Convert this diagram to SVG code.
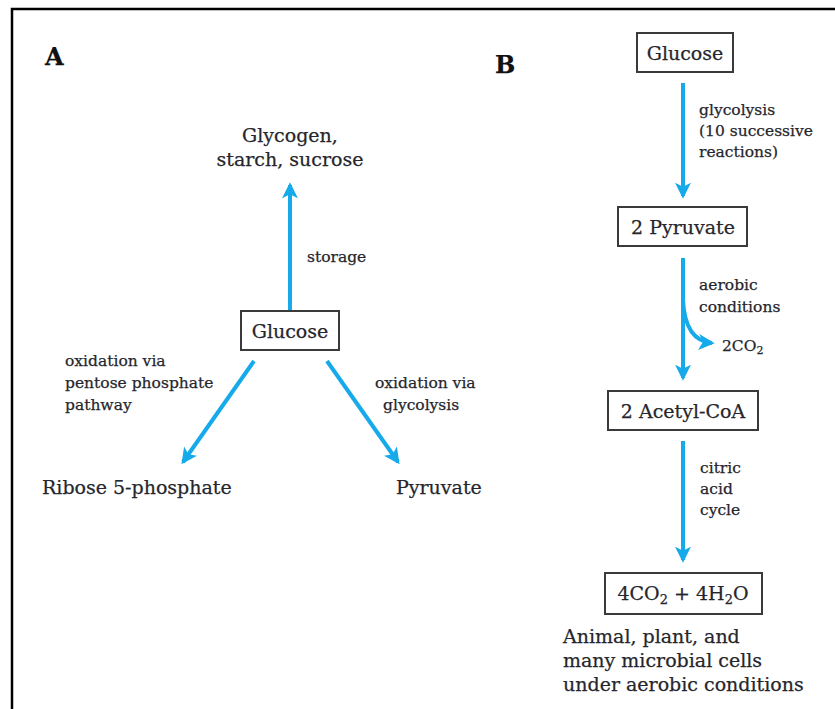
<svg xmlns="http://www.w3.org/2000/svg" width="835" height="709" viewBox="0 0 835 709">
  <style>
    .frame { stroke: #000; stroke-width: 2.5; fill: none; }
    .box { fill: #fff; stroke: #3a3a3a; stroke-width: 2; }
    text { font-family: "DejaVu Serif", "Liberation Serif", serif; fill: #26262c; stroke: #26262c; stroke-width: 0.25; }
    .node { font-size: 19px; }
    .lbl { font-size: 15.5px; }
    .big { font-size: 19px; }
    .panel { font-size: 24px; font-weight: bold; fill: #111; stroke: #111; }
    .arrow { stroke: #16aaea; stroke-width: 4; fill: none; marker-end: url(#head); }
  </style>
  <defs>
    <marker id="head" viewBox="0 0 12 12" refX="10" refY="6" markerWidth="4" markerHeight="4" orient="auto" markerUnits="strokeWidth">
      <path d="M0,0 L12,6 L0,12 L3,6 z" fill="#16aaea"/>
    </marker>
  </defs>

  <!-- frame -->
  <path class="frame" d="M12,709 L12,9 L835,9"/>

  <text class="panel" x="45" y="65">A</text>
  <text class="panel" x="495" y="73">B</text>

  <!-- connectors -->
  <g id="connectors">
    <line class="arrow" x1="290" y1="310" x2="290" y2="185"/>
    <line class="arrow" x1="254" y1="361" x2="183" y2="462"/>
    <line class="arrow" x1="327" y1="361" x2="398" y2="462"/>
    <line class="arrow" x1="683" y1="83" x2="683" y2="196"/>
    <line class="arrow" x1="683" y1="258" x2="683" y2="378"/>
    <path class="arrow" d="M683,300 Q685,341 712,343"/>
    <line class="arrow" x1="683" y1="441" x2="683" y2="560"/>
  </g>

  <!-- panel A -->
  <g id="a-storage-products">
    <text class="big" x="290" y="142" text-anchor="middle">Glycogen,</text>
    <text class="big" x="290" y="166" text-anchor="middle">starch, sucrose</text>
  </g>
  <g id="a-glucose">
    <rect class="box" x="241" y="311" width="98" height="39"/>
    <text class="node" x="290" y="338" text-anchor="middle">Glucose</text>
  </g>
  <g id="a-ribose">
    <text class="big" x="42" y="494">Ribose 5-phosphate</text>
  </g>
  <g id="a-pyruvate">
    <text class="big" x="396" y="494">Pyruvate</text>
  </g>
  <g id="a-labels">
    <text class="lbl" x="307" y="262">storage</text>
    <text class="lbl" x="65" y="366">oxidation via</text>
    <text class="lbl" x="65" y="388">pentose phosphate</text>
    <text class="lbl" x="65" y="410">pathway</text>
    <text class="lbl" x="375" y="388">oxidation via</text>
    <text class="lbl" x="383" y="410">glycolysis</text>
  </g>

  <!-- panel B -->
  <g id="b-glucose">
    <rect class="box" x="637" y="33" width="96" height="39"/>
    <text class="node" x="685" y="60" text-anchor="middle">Glucose</text>
  </g>
  <g id="b-pyruvate">
    <rect class="box" x="618" y="207" width="129" height="39"/>
    <text class="node" x="683" y="234" text-anchor="middle">2 Pyruvate</text>
  </g>
  <g id="b-acetylcoa">
    <rect class="box" x="608" y="391" width="150" height="39"/>
    <text class="node" x="683" y="418" text-anchor="middle">2 Acetyl-CoA</text>
  </g>
  <g id="b-products">
    <rect class="box" x="605" y="573" width="157" height="41"/>
    <text class="node" x="683" y="600" text-anchor="middle">4CO<tspan font-size="13" dy="4">2</tspan><tspan dy="-4"> + 4H</tspan><tspan font-size="13" dy="4">2</tspan><tspan dy="-4">O</tspan></text>
  </g>
  <g id="b-labels">
    <text class="lbl" x="699" y="115">glycolysis</text>
    <text class="lbl" x="699" y="136">(10 successive</text>
    <text class="lbl" x="699" y="157">reactions)</text>
    <text class="lbl" x="699" y="290">aerobic</text>
    <text class="lbl" x="699" y="312">conditions</text>
    <text class="lbl" x="722" y="351">2CO<tspan font-size="11" dy="3">2</tspan></text>
    <text class="lbl" x="700" y="473">citric</text>
    <text class="lbl" x="700" y="494">acid</text>
    <text class="lbl" x="700" y="515">cycle</text>
  </g>
  <g id="b-note">
    <text class="big" x="563" y="643">Animal, plant, and</text>
    <text class="big" x="563" y="667">many microbial cells</text>
    <text class="big" x="563" y="691">under aerobic conditions</text>
  </g>
</svg>
